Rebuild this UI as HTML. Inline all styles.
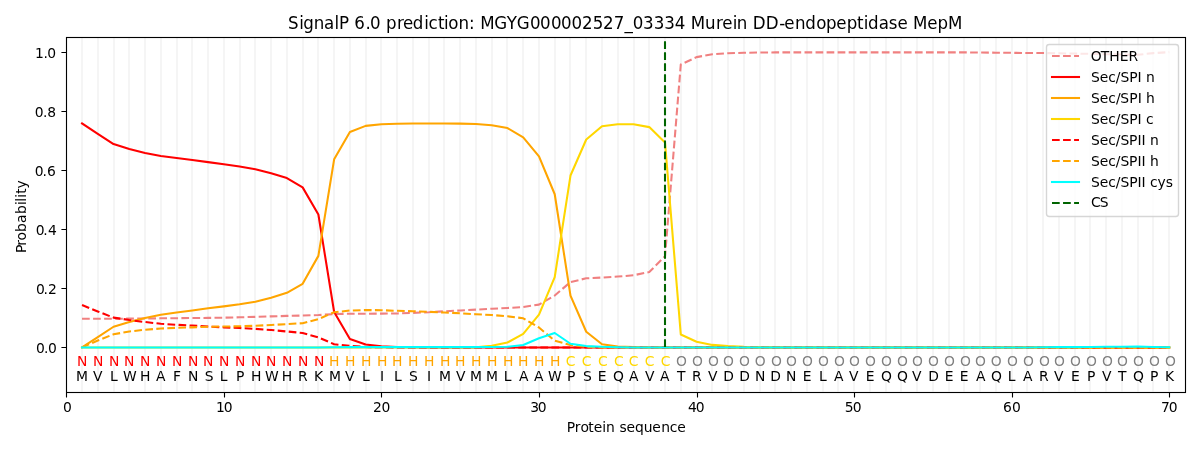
<!DOCTYPE html>
<html lang="en"><head><meta charset="utf-8"><title>SignalP 6.0 prediction</title>
<style>html,body{margin:0;padding:0;background:#fff;overflow:hidden}svg{display:block}</style>
</head><body>
<svg width="1200" height="450" viewBox="0 0 1200 450" font-family="'DejaVu Sans','Liberation Sans',sans-serif" font-size="13.89" fill="#000">
<defs><clipPath id="ax"><rect x="66.28" y="37.33" width="1118.72" height="354.39"/></clipPath></defs>
<rect width="1200" height="450" fill="#fff"/>
<g clip-path="url(#ax)" fill="none" stroke-width="2.08" stroke-linejoin="round">
<path d="M82 37.33V391.72M98 37.33V391.72M114 37.33V391.72M129 37.33V391.72M145 37.33V391.72M161 37.33V391.72M177 37.33V391.72M192 37.33V391.72M208 37.33V391.72M224 37.33V391.72M240 37.33V391.72M255 37.33V391.72M271 37.33V391.72M287 37.33V391.72M303 37.33V391.72M318 37.33V391.72M334 37.33V391.72M350 37.33V391.72M366 37.33V391.72M381 37.33V391.72M397 37.33V391.72M413 37.33V391.72M429 37.33V391.72M444 37.33V391.72M460 37.33V391.72M476 37.33V391.72M492 37.33V391.72M507 37.33V391.72M523 37.33V391.72M539 37.33V391.72M555 37.33V391.72M570 37.33V391.72M586 37.33V391.72M602 37.33V391.72M618 37.33V391.72M634 37.33V391.72M649 37.33V391.72M665 37.33V391.72M681 37.33V391.72M697 37.33V391.72M712 37.33V391.72M728 37.33V391.72M744 37.33V391.72M760 37.33V391.72M775 37.33V391.72M791 37.33V391.72M807 37.33V391.72M823 37.33V391.72M838 37.33V391.72M854 37.33V391.72M870 37.33V391.72M886 37.33V391.72M901 37.33V391.72M917 37.33V391.72M933 37.33V391.72M949 37.33V391.72M964 37.33V391.72M980 37.33V391.72M996 37.33V391.72M1012 37.33V391.72M1027 37.33V391.72M1043 37.33V391.72M1059 37.33V391.72M1075 37.33V391.72M1090 37.33V391.72M1106 37.33V391.72M1122 37.33V391.72M1138 37.33V391.72M1153 37.33V391.72M1169 37.33V391.72" stroke="#f5f5f5"/>
<path d="M82.03 318.78L97.79 318.78L113.55 318.78L129.3 318.63L145.06 318.48L160.82 318.33L176.57 318.19L192.33 318.04L208.09 317.89L223.84 317.68L239.6 317.3L255.36 316.86L271.11 316.36L286.87 315.91L302.63 315.53L318.38 315.03L334.14 314.08L349.9 313.7L365.65 313.7L381.41 313.61L397.17 313.46L412.92 312.87L428.68 312.28L444.44 311.25L460.19 310.51L475.95 309.62L491.71 308.74L507.46 308L523.22 306.96L538.98 304.6L554.73 295.54L570.49 282.01L586.25 278.32L602 277.52L617.76 276.55L633.52 275.28L649.27 272.03L665.03 256.26L680.79 64.5L696.54 57.12L712.3 54.26L728.06 53.28L743.81 52.75L759.57 52.54L775.33 52.39L791.08 52.39L806.84 52.39L822.6 52.39L838.35 52.39L854.11 52.39L869.87 52.39L885.62 52.39L901.38 52.39L917.14 52.39L932.89 52.39L948.65 52.39L964.41 52.39L980.16 52.54L995.92 52.69L1011.68 52.84L1027.43 52.99L1043.19 53.07L1058.95 53.28L1074.7 53.58L1090.46 53.87L1106.22 54.17L1121.97 54.55L1137.73 54.76L1153.49 53.13L1169.24 52.1" stroke="#f08080" stroke-dasharray="7.71 3.33"/>
<path d="M82.03 123.42L97.79 133.76L113.55 144.09L129.3 149.11L145.06 152.95L160.82 155.91L176.57 157.97L192.33 160.04L208.09 162.11L223.84 164.18L239.6 166.54L255.36 169.2L271.11 173.33L286.87 178.06L302.63 187.36L318.38 214.53L334.14 311.98L349.9 339.04L365.65 344.53L381.41 346.36L397.17 347.07L412.92 347.31L428.68 347.42L444.44 347.42L460.19 347.42L475.95 347.42L491.71 347.42L507.46 347.42L523.22 347.42L538.98 347.42L554.73 347.42L570.49 347.42L586.25 347.42L602 347.42L617.76 347.42L633.52 347.42L649.27 347.42L665.03 347.42L680.79 347.42L696.54 347.42L712.3 347.42L728.06 347.42L743.81 347.42L759.57 347.42L775.33 347.42L791.08 347.42L806.84 347.42L822.6 347.42L838.35 347.42L854.11 347.42L869.87 347.42L885.62 347.42L901.38 347.42L917.14 347.42L932.89 347.42L948.65 347.42L964.41 347.42L980.16 347.42L995.92 347.42L1011.68 347.42L1027.43 347.42L1043.19 347.42L1058.95 347.42L1074.7 347.42L1090.46 347.42L1106.22 347.42L1121.97 347.42L1137.73 347.42L1153.49 347.42L1169.24 347.42" stroke="#ff0000" stroke-linecap="square"/>
<path d="M82.03 347.42L97.79 337.09L113.55 326.75L129.3 322.03L145.06 318.01L160.82 314.76L176.57 312.58L192.33 310.51L208.09 308.26L223.84 306.37L239.6 304.31L255.36 301.77L271.11 297.81L286.87 292.79L302.63 283.78L318.38 255.87L334.14 159.3L349.9 132.01L365.65 125.87L381.41 124.31L397.17 123.8L412.92 123.57L428.68 123.57L444.44 123.57L460.19 123.63L475.95 123.92L491.71 125.28L507.46 128.06L523.22 137.45L538.98 156.35L554.73 194.27L570.49 295.54L586.25 331.77L602 344.26L617.76 346.54L633.52 347.13L649.27 347.42L665.03 347.42L680.79 347.42L696.54 347.42L712.3 347.42L728.06 347.42L743.81 347.42L759.57 347.42L775.33 347.42L791.08 347.42L806.84 347.42L822.6 347.42L838.35 347.42L854.11 347.42L869.87 347.42L885.62 347.42L901.38 347.42L917.14 347.42L932.89 347.42L948.65 347.42L964.41 347.42L980.16 347.42L995.92 347.42L1011.68 347.42L1027.43 347.42L1043.19 347.42L1058.95 347.42L1074.7 347.42L1090.46 347.42L1106.22 347.42L1121.97 347.42L1137.73 347.42L1153.49 347.42L1169.24 347.42" stroke="#ffa500" stroke-linecap="square"/>
<path d="M82.03 347.42L97.79 347.42L113.55 347.42L129.3 347.42L145.06 347.42L160.82 347.42L176.57 347.42L192.33 347.42L208.09 347.42L223.84 347.42L239.6 347.42L255.36 347.42L271.11 347.42L286.87 347.42L302.63 347.42L318.38 347.42L334.14 347.42L349.9 347.42L365.65 347.42L381.41 347.42L397.17 347.42L412.92 347.42L428.68 347.42L444.44 347.42L460.19 347.42L475.95 347.36L491.71 345.8L507.46 342.52L523.22 333.84L538.98 314.64L554.73 277.14L570.49 175.54L586.25 139.52L602 126.23L617.76 124.25L633.52 124.25L649.27 127.11L665.03 142.47L680.79 334.52L696.54 341.81L712.3 344.91L728.06 346.09L743.81 346.83L759.57 347.13L775.33 347.28L791.08 347.42L806.84 347.42L822.6 347.42L838.35 347.42L854.11 347.42L869.87 347.42L885.62 347.42L901.38 347.42L917.14 347.42L932.89 347.42L948.65 347.42L964.41 347.42L980.16 347.42L995.92 347.42L1011.68 347.42L1027.43 347.42L1043.19 347.42L1058.95 347.42L1074.7 347.42L1090.46 347.42L1106.22 347.42L1121.97 347.42L1137.73 347.42L1153.49 347.42L1169.24 347.42" stroke="#ffd700" stroke-linecap="square"/>
<path d="M82.03 305.02L97.79 311.51L113.55 317.6L129.3 320.02L145.06 322.03L160.82 323.8L176.57 324.77L192.33 325.57L208.09 326.51L223.84 327.34L239.6 328.02L255.36 328.82L271.11 330L286.87 331.48L302.63 332.95L318.38 337.38L334.14 344.23L349.9 345.95L365.65 346.98L381.41 347.28L397.17 347.42L412.92 347.42L428.68 347.42L444.44 347.42L460.19 347.42L475.95 347.42L491.71 347.42L507.46 347.42L523.22 347.42L538.98 347.42L554.73 347.42L570.49 347.42L586.25 347.42L602 347.42L617.76 347.42L633.52 347.42L649.27 347.42L665.03 347.42L680.79 347.42L696.54 347.42L712.3 347.42L728.06 347.42L743.81 347.42L759.57 347.42L775.33 347.42L791.08 347.42L806.84 347.42L822.6 347.42L838.35 347.42L854.11 347.42L869.87 347.42L885.62 347.42L901.38 347.42L917.14 347.42L932.89 347.42L948.65 347.42L964.41 347.42L980.16 347.42L995.92 347.42L1011.68 347.42L1027.43 347.42L1043.19 347.42L1058.95 347.42L1074.7 347.42L1090.46 347.42L1106.22 347.42L1121.97 347.42L1137.73 347.42L1153.49 347.42L1169.24 347.42" stroke="#ff0000" stroke-dasharray="7.71 3.33"/>
<path d="M82.03 347.42L97.79 340.51L113.55 334.28L129.3 331.48L145.06 329.7L160.82 328.52L176.57 327.78L192.33 327.34L208.09 326.75L223.84 326.51L239.6 326.31L255.36 325.78L271.11 324.98L286.87 324.09L302.63 323.21L318.38 319.07L334.14 312.28L349.9 310.51L365.65 310.04L381.41 310.21L397.17 310.8L412.92 311.25L428.68 311.78L444.44 312.58L460.19 313.25L475.95 314.26L491.71 315.03L507.46 316.27L523.22 318.28L538.98 327.52L554.73 340.78L570.49 345.06L586.25 346.83L602 347.42L617.76 347.42L633.52 347.42L649.27 347.42L665.03 347.42L680.79 347.42L696.54 347.42L712.3 347.42L728.06 347.42L743.81 347.42L759.57 347.42L775.33 347.42L791.08 347.42L806.84 347.42L822.6 347.42L838.35 347.42L854.11 347.42L869.87 347.42L885.62 347.42L901.38 347.42L917.14 347.42L932.89 347.42L948.65 347.42L964.41 347.42L980.16 347.42L995.92 347.42L1011.68 347.42L1027.43 347.42L1043.19 347.42L1058.95 347.42L1074.7 347.42L1090.46 347.42L1106.22 347.42L1121.97 347.42L1137.73 347.42L1153.49 347.42L1169.24 347.42" stroke="#ffa500" stroke-dasharray="7.71 3.33"/>
<path d="M82.03 347.42L97.79 347.42L113.55 347.42L129.3 347.42L145.06 347.42L160.82 347.42L176.57 347.42L192.33 347.42L208.09 347.42L223.84 347.42L239.6 347.42L255.36 347.42L271.11 347.42L286.87 347.42L302.63 347.42L318.38 347.42L334.14 347.28L349.9 347.13L365.65 347.13L381.41 347.13L397.17 347.13L412.92 347.13L428.68 347.13L444.44 347.13L460.19 347.13L475.95 347.13L491.71 347.07L507.46 346.83L523.22 345.06L538.98 338.27L554.73 333.01L570.49 343.76L586.25 346.09L602 346.83L617.76 347.19L633.52 347.42L649.27 347.42L665.03 347.42L680.79 347.42L696.54 347.42L712.3 347.42L728.06 347.42L743.81 347.42L759.57 347.42L775.33 347.42L791.08 347.42L806.84 347.42L822.6 347.42L838.35 347.42L854.11 347.42L869.87 347.42L885.62 347.42L901.38 347.42L917.14 347.42L932.89 347.42L948.65 347.42L964.41 347.42L980.16 347.42L995.92 347.42L1011.68 347.42L1027.43 347.42L1043.19 347.28L1058.95 347.13L1074.7 347.13L1090.46 346.98L1106.22 346.83L1121.97 346.69L1137.73 346.54L1153.49 346.98L1169.24 347.28" stroke="#00ffff" stroke-linecap="square"/>
<path d="M665 347L665 -22" stroke="#006400" stroke-dasharray="7.71 3.33"/>
</g>
<g stroke="#000" stroke-width="1.11" fill="none">
<path d="M66.5 392.64v4.86M224.5 392.64v4.86M381.5 392.64v4.86M539.5 392.64v4.86M697.5 392.64v4.86M854.5 392.64v4.86M1012.5 392.64v4.86M1169.5 392.64v4.86M66.28 347.5h-4.86M66.28 288.5h-4.86M66.28 229.5h-4.86M66.28 170.5h-4.86M66.28 111.5h-4.86M66.28 52.5h-4.86"/>
<rect x="66.5" y="37.5" width="1119" height="355" stroke-linecap="square" stroke-linejoin="miter"/>
</g>
<g>
<text x="63.01" y="411.96">0</text>
<text x="216.12 223.81" y="411.79">10</text>
<text x="373.11 381.58" y="411.8">20</text>
<text x="530.13 537.75" y="411.78">30</text>
<text x="688.06 695.67" y="412.48">40</text>
<text x="844.85 852.76" y="411.95">50</text>
<text x="1002.93 1011.9" y="412.01">60</text>
<text x="1161 1168.74" y="411.96">70</text>
<text x="36 43.94 48.04" y="353.26">0.0</text>
<text x="35.92 43.48 48.01" y="294.03">0.2</text>
<text x="35.85 43.3 48.06" y="234.85">0.4</text>
<text x="34.85 42.6 47.04" y="176.14">0.6</text>
<text x="34.85 43.03 47.31" y="116.94">0.8</text>
<text x="34.98 43.45 47.14" y="57.76">1.0</text>
<text x="566.84 574.76 580.41 588.34 593.86 602.15 606.08 615.14 619.42 626.44 634.96 643.63 652.34 661.2 669.8 677.22" y="432.07">Protein sequence</text>
<text transform="translate(26.08 253.71) rotate(-90)" x="0.81 7.92 13.32 21.82 30.82 39.77 48.82 52.05 56.02 59.97 65.33">Probability</text>
<text transform="translate(288.89 29.08) scale(1 1.08)" x="-0.8 10.32 14.48 24.89 35.23 45.66 50.08 61 65.39 76.7 81.1 92.5 97.09 108.23 114.17 123.98 135.25 139.6 149.21 155.01 159.44 169.58 180.18 186.75 191.3 205.47 217.87 227.94 241.07 251.19 262.11 272.07 282.62 293.01 303.76 314.23 324.92 335.67 343.96 354.14 364.82 375.35 385.94 397.38 401.81 416.05 427.22 433.3 443.85 447.94 459.38 463.86 476.74 490.29 495.47 506.06 516.29 527.33 537.01 547.37 557.79 568.02 574.86 579.24 589.83 599.87 608.5 619.62 624.14 638.34 648.7 659.13" font-size="16.67">SignalP 6.0 prediction: MGYG000002527_03334 Murein DD-endopeptidase MepM</text>
</g>
<g>
<text x="82.24" y="366.19" text-anchor="middle" fill="#ff0000">N</text>
<text x="82.07" y="381" text-anchor="middle">M</text>
<text x="98.15" y="366.2" text-anchor="middle" fill="#ff0000">N</text>
<text x="97.79" y="381" text-anchor="middle">V</text>
<text x="114.2" y="366.18" text-anchor="middle" fill="#ff0000">N</text>
<text x="113.83" y="380.8" text-anchor="middle">L</text>
<text x="129.15" y="366.18" text-anchor="middle" fill="#ff0000">N</text>
<text x="129.91" y="380.98" text-anchor="middle">W</text>
<text x="145.27" y="366.19" text-anchor="middle" fill="#ff0000">N</text>
<text x="145.15" y="380.92" text-anchor="middle">H</text>
<text x="161.18" y="366.2" text-anchor="middle" fill="#ff0000">N</text>
<text x="160.82" y="380.76" text-anchor="middle">A</text>
<text x="177.22" y="366.18" text-anchor="middle" fill="#ff0000">N</text>
<text x="176.94" y="381.09" text-anchor="middle">F</text>
<text x="193.15" y="366.19" text-anchor="middle" fill="#ff0000">N</text>
<text x="193.09" y="380.96" text-anchor="middle">N</text>
<text x="208.13" y="366.19" text-anchor="middle" fill="#ff0000">N</text>
<text x="209.21" y="380.75" text-anchor="middle">S</text>
<text x="224.22" y="366.19" text-anchor="middle" fill="#ff0000">N</text>
<text x="223.72" y="380.92" text-anchor="middle">L</text>
<text x="240.13" y="366.2" text-anchor="middle" fill="#ff0000">N</text>
<text x="240.23" y="380.92" text-anchor="middle">P</text>
<text x="256.18" y="366.19" text-anchor="middle" fill="#ff0000">N</text>
<text x="256.13" y="380.92" text-anchor="middle">H</text>
<text x="271.15" y="366.19" text-anchor="middle" fill="#ff0000">N</text>
<text x="271.92" y="380.98" text-anchor="middle">W</text>
<text x="287.25" y="366.19" text-anchor="middle" fill="#ff0000">N</text>
<text x="287.09" y="380.92" text-anchor="middle">H</text>
<text x="303.16" y="366.2" text-anchor="middle" fill="#ff0000">N</text>
<text x="302.87" y="380.99" text-anchor="middle">R</text>
<text x="319.2" y="366.19" text-anchor="middle" fill="#ff0000">N</text>
<text x="318.58" y="380.98" text-anchor="middle">K</text>
<text x="334.26" y="366.15" text-anchor="middle" fill="#ffa500">H</text>
<text x="334.97" y="380.99" text-anchor="middle">M</text>
<text x="350.18" y="366.15" text-anchor="middle" fill="#ffa500">H</text>
<text x="349.69" y="380.99" text-anchor="middle">V</text>
<text x="366.2" y="366.15" text-anchor="middle" fill="#ffa500">H</text>
<text x="365.89" y="380.92" text-anchor="middle">L</text>
<text x="382.21" y="366.15" text-anchor="middle" fill="#ffa500">H</text>
<text x="382.01" y="380.96" text-anchor="middle">I</text>
<text x="397.29" y="366.15" text-anchor="middle" fill="#ffa500">H</text>
<text x="397.81" y="380.77" text-anchor="middle">L</text>
<text x="413.2" y="366.15" text-anchor="middle" fill="#ffa500">H</text>
<text x="413.41" y="381.07" text-anchor="middle">S</text>
<text x="429.15" y="366.15" text-anchor="middle" fill="#ffa500">H</text>
<text x="428.94" y="380.96" text-anchor="middle">I</text>
<text x="445.16" y="366.15" text-anchor="middle" fill="#ffa500">H</text>
<text x="445.07" y="381" text-anchor="middle">M</text>
<text x="460.31" y="366.15" text-anchor="middle" fill="#ffa500">H</text>
<text x="460.73" y="381.03" text-anchor="middle">V</text>
<text x="476.23" y="366.15" text-anchor="middle" fill="#ffa500">H</text>
<text x="475.99" y="381" text-anchor="middle">M</text>
<text x="492.18" y="366.15" text-anchor="middle" fill="#ffa500">H</text>
<text x="491.93" y="381" text-anchor="middle">M</text>
<text x="508.18" y="366.15" text-anchor="middle" fill="#ffa500">H</text>
<text x="507.74" y="380.79" text-anchor="middle">L</text>
<text x="523.34" y="366.15" text-anchor="middle" fill="#ffa500">H</text>
<text x="523.76" y="380.72" text-anchor="middle">A</text>
<text x="539.26" y="366.15" text-anchor="middle" fill="#ffa500">H</text>
<text x="538.77" y="380.76" text-anchor="middle">A</text>
<text x="555.2" y="366.15" text-anchor="middle" fill="#ffa500">H</text>
<text x="554.96" y="380.99" text-anchor="middle">W</text>
<text x="570.67" y="366.23" text-anchor="middle" fill="#ffd700">C</text>
<text x="571.19" y="380.91" text-anchor="middle">P</text>
<text x="586.65" y="366.24" text-anchor="middle" fill="#ffd700">C</text>
<text x="587.32" y="381.03" text-anchor="middle">S</text>
<text x="602.82" y="366.23" text-anchor="middle" fill="#ffd700">C</text>
<text x="602.18" y="380.92" text-anchor="middle">E</text>
<text x="618.74" y="366.24" text-anchor="middle" fill="#ffd700">C</text>
<text x="618.48" y="381.16" text-anchor="middle">Q</text>
<text x="633.7" y="366.23" text-anchor="middle" fill="#ffd700">C</text>
<text x="633.7" y="380.72" text-anchor="middle">A</text>
<text x="649.67" y="366.24" text-anchor="middle" fill="#ffd700">C</text>
<text x="649.79" y="381.02" text-anchor="middle">V</text>
<text x="665.63" y="366.23" text-anchor="middle" fill="#ffd700">C</text>
<text x="664.82" y="380.76" text-anchor="middle">A</text>
<text x="681.46" y="366.27" text-anchor="middle" fill="#808080">O</text>
<text x="681.23" y="381.2" text-anchor="middle">T</text>
<text x="697.49" y="366.27" text-anchor="middle" fill="#808080">O</text>
<text x="696.93" y="380.97" text-anchor="middle">R</text>
<text x="713.42" y="366.27" text-anchor="middle" fill="#808080">O</text>
<text x="712.65" y="381" text-anchor="middle">V</text>
<text x="728.47" y="366.27" text-anchor="middle" fill="#808080">O</text>
<text x="728.48" y="381.12" text-anchor="middle">D</text>
<text x="744.48" y="366.27" text-anchor="middle" fill="#808080">O</text>
<text x="744.58" y="381.12" text-anchor="middle">D</text>
<text x="760.33" y="366.27" text-anchor="middle" fill="#808080">O</text>
<text x="760.14" y="380.95" text-anchor="middle">N</text>
<text x="776.45" y="366.27" text-anchor="middle" fill="#808080">O</text>
<text x="775.55" y="381.12" text-anchor="middle">D</text>
<text x="791.49" y="366.27" text-anchor="middle" fill="#808080">O</text>
<text x="791.23" y="380.96" text-anchor="middle">N</text>
<text x="807.44" y="366.27" text-anchor="middle" fill="#808080">O</text>
<text x="807.22" y="380.92" text-anchor="middle">E</text>
<text x="823.46" y="366.27" text-anchor="middle" fill="#808080">O</text>
<text x="822.76" y="380.84" text-anchor="middle">L</text>
<text x="839.47" y="366.27" text-anchor="middle" fill="#808080">O</text>
<text x="838.7" y="380.75" text-anchor="middle">A</text>
<text x="854.45" y="366.27" text-anchor="middle" fill="#808080">O</text>
<text x="853.69" y="380.98" text-anchor="middle">V</text>
<text x="870.47" y="366.27" text-anchor="middle" fill="#808080">O</text>
<text x="870.25" y="380.92" text-anchor="middle">E</text>
<text x="886.48" y="366.27" text-anchor="middle" fill="#808080">O</text>
<text x="886.34" y="381.16" text-anchor="middle">Q</text>
<text x="902.5" y="366.27" text-anchor="middle" fill="#808080">O</text>
<text x="902.45" y="381.16" text-anchor="middle">Q</text>
<text x="917.48" y="366.27" text-anchor="middle" fill="#808080">O</text>
<text x="916.74" y="381" text-anchor="middle">V</text>
<text x="933.49" y="366.27" text-anchor="middle" fill="#808080">O</text>
<text x="933.49" y="381.12" text-anchor="middle">D</text>
<text x="949.51" y="366.27" text-anchor="middle" fill="#808080">O</text>
<text x="949.26" y="380.93" text-anchor="middle">E</text>
<text x="965.35" y="366.27" text-anchor="middle" fill="#808080">O</text>
<text x="964.21" y="380.92" text-anchor="middle">E</text>
<text x="980.5" y="366.27" text-anchor="middle" fill="#808080">O</text>
<text x="980.7" y="380.72" text-anchor="middle">A</text>
<text x="996.33" y="366.27" text-anchor="middle" fill="#808080">O</text>
<text x="996.42" y="381.16" text-anchor="middle">Q</text>
<text x="1012.35" y="366.27" text-anchor="middle" fill="#808080">O</text>
<text x="1011.74" y="380.92" text-anchor="middle">L</text>
<text x="1028.37" y="366.27" text-anchor="middle" fill="#808080">O</text>
<text x="1027.77" y="380.72" text-anchor="middle">A</text>
<text x="1044.49" y="366.27" text-anchor="middle" fill="#808080">O</text>
<text x="1043.87" y="380.98" text-anchor="middle">R</text>
<text x="1059.36" y="366.27" text-anchor="middle" fill="#808080">O</text>
<text x="1058.74" y="380.99" text-anchor="middle">V</text>
<text x="1075.37" y="366.27" text-anchor="middle" fill="#808080">O</text>
<text x="1075.31" y="380.93" text-anchor="middle">E</text>
<text x="1091.4" y="366.27" text-anchor="middle" fill="#808080">O</text>
<text x="1091.16" y="380.91" text-anchor="middle">P</text>
<text x="1107.34" y="366.27" text-anchor="middle" fill="#808080">O</text>
<text x="1106.76" y="381.03" text-anchor="middle">V</text>
<text x="1122.38" y="366.27" text-anchor="middle" fill="#808080">O</text>
<text x="1122.25" y="381.2" text-anchor="middle">T</text>
<text x="1138.4" y="366.27" text-anchor="middle" fill="#808080">O</text>
<text x="1138.45" y="381.16" text-anchor="middle">Q</text>
<text x="1154.43" y="366.27" text-anchor="middle" fill="#808080">O</text>
<text x="1154.19" y="380.91" text-anchor="middle">P</text>
<text x="1170.36" y="366.27" text-anchor="middle" fill="#808080">O</text>
<text x="1169.6" y="380.96" text-anchor="middle">K</text>
</g>
<rect x="1046.5" y="44.5" width="132" height="172" rx="2.78" fill="#fff" fill-opacity="0.8" stroke="#ccc" stroke-opacity="0.8" stroke-width="1.39"/>
<g fill="none" stroke-width="2.08">
<path d="M1052 56H1079" stroke="#f08080" stroke-dasharray="7.71 3.33"/>
<path d="M1052 77H1079" stroke="#ff0000" stroke-linecap="square"/>
<path d="M1052 98H1079" stroke="#ffa500" stroke-linecap="square"/>
<path d="M1052 119H1079" stroke="#ffd700" stroke-linecap="square"/>
<path d="M1052 140H1079" stroke="#ff0000" stroke-dasharray="7.71 3.33"/>
<path d="M1052 161H1079" stroke="#ffa500" stroke-dasharray="7.71 3.33"/>
<path d="M1052 182H1079" stroke="#00ffff" stroke-linecap="square"/>
<path d="M1052 203H1079" stroke="#006400" stroke-dasharray="7.71 3.33"/>
</g><g>
<text x="1090.82 1100.77 1109.22 1119.74 1128.54" y="60.84">OTHER</text>
<text x="1090.91 1099.84 1108.26 1115.81 1120.53 1129.22 1137.58 1141.58 1145.95" y="81.86">Sec/SPI n</text>
<text x="1090.99 1099.84 1108.17 1115.88 1120.34 1129.3 1137.66 1141.48 1146.03" y="102.8">Sec/SPI h</text>
<text x="1090.9 1099.73 1108.21 1115.79 1120.42 1129.29 1137.61 1141.39 1145.95" y="123.71">Sec/SPI c</text>
<text x="1090.89 1099.82 1108.24 1115.79 1120.51 1129.1 1137.55 1141.54 1145.56 1149.93" y="144.69">Sec/SPII n</text>
<text x="1090.89 1099.82 1108.24 1115.79 1120.51 1129.1 1137.55 1141.54 1145.56 1149.93" y="165.64">Sec/SPII h</text>
<text x="1090.9 1099.73 1108.21 1115.79 1120.42 1129.29 1137.61 1141.41 1145.39 1149.91 1157.53 1165.72" y="186.52">Sec/SPII cys</text>
<text x="1090.97 1099.67" y="206.76">CS</text>
</g></svg>
</body></html>
